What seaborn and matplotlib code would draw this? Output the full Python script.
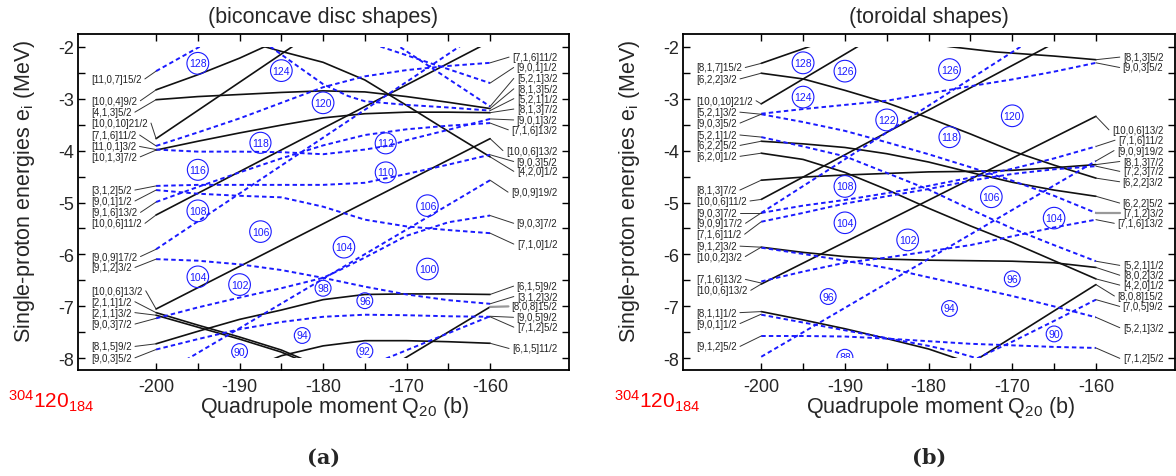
import matplotlib
matplotlib.use("Agg")
import matplotlib.pyplot as plt
import numpy as np
import pandas as pd
import seaborn as sns
from matplotlib.ticker import FixedLocator
from matplotlib.patches import Rectangle

# ---------------- data: panel (a) biconcave disc ----------------
Q9 = [-200, -195, -190, -185, -180, -175, -170, -165, -160]

a_s_10_0_4 = ([-200, -195, -190, -187, -185], [-2.83, -2.54, -2.22, -2.0, -1.88])
a_s_4_2_0 = ([-190, -187, -185, -180, -175, -170, -165, -160], [-1.87, -2.0, -2.09, -2.30, -2.64, -3.13, -3.63, -4.12])
a_s_4_1_3 = (Q9, [-3.02, -2.96, -2.92, -2.88, -2.85, -2.87, -2.96, -3.07, -3.19])
a_s_10_0_10 = ([-200, -183.7, -181], [-3.77, -2.0, -1.71])
a_s_10_1_3 = (Q9, [-3.99, -3.82, -3.66, -3.51, -3.37, -3.29, -3.26, -3.26, -3.27])
a_s_10_0_6a = ([-200, -160], [-5.24, -1.90])
a_s_10_0_6b = ([-200, -160], [-7.05, -3.77])
a_s_2_1_1a = ([-200, -195, -190, -185, -182.5, -180], [-7.12, -7.36, -7.59, -7.84, -8.01, -8.18])
a_s_2_1_1b = ([-200, -195, -190, -185, -182.5, -180], [-7.17, -7.40, -7.63, -7.88, -8.05, -8.22])
a_s_8_1_5 = (Q9, [-7.72, -7.48, -7.25, -7.07, -6.87, -6.77, -6.76, -6.76, -6.77])
a_s_6_1_5 = ([-190, -185, -180, -175, -170, -165, -160], [-8.27, -7.95, -7.76, -7.66, -7.66, -7.68, -7.71])
a_s_8_0_8 = ([-172, -160], [-8.17, -7.01])

a_d_11_0_7 = ([-200, -195, -194], [-2.47, -2.02, -1.93])
a_d_7_1_6 = (Q9, [-3.91, -3.65, -3.38, -3.08, -2.78, -2.57, -2.45, -2.37, -2.31])
a_d_top = ([-188, -186.3, -183, -180, -177, -175, -170, -165, -160], [-1.88, -2.0, -2.38, -2.72, -2.95, -3.05, -3.12, -3.17, -3.23])
a_d_11_0_1 = ([-200, -195, -190, -185, -180, -175, -172, -170, -165, -160], [-3.98, -4.02, -4.02, -4.03, -4.07, -3.98, -3.90, -3.80, -3.60, -3.39])
a_d_3_1_2 = (Q9, [-4.68, -4.66, -4.66, -4.66, -4.66, -4.62, -4.45, -4.27, -4.08])
a_d_9_0_1 = (Q9, [-4.76, -4.83, -4.87, -4.90, -5.08, -5.33, -5.46, -5.53, -5.59])
a_d_9_1_6 = (Q9, [-4.99, -4.70, -4.42, -4.15, -3.90, -3.70, -3.59, -3.52, -3.47])
a_d_9_0_9 = ([-200, -163.7, -162], [-5.90, -2.0, -1.82])
a_d_9_1_2 = (Q9, [-6.09, -6.12, -6.19, -6.30, -6.45, -6.62, -6.77, -6.88, -6.95])
a_d_9_0_3a = ([-200, -195, -190, -185, -180, -178, -175, -170, -165, -160], [-7.23, -7.02, -6.83, -6.65, -6.45, -6.30, -6.06, -5.64, -5.38, -5.25])
a_d_9_0_3b = (Q9, [-7.83, -7.63, -7.44, -7.30, -7.20, -7.16, -7.17, -7.19, -7.20])
a_d_steep = ([-198, -160], [-8.18, -4.57])
a_d_7_1_2 = ([-175, -160], [-8.17, -7.19])
a_d_top1 = ([-174, -160], [-1.95, -2.70])
a_d_top2 = ([-171.5, -160], [-1.93, -3.15])

a_left_text = ["[11,0,7]15/2", "[10,0,4]9/2", "[4,1,3]5/2", "[10,0,10]21/2", "[7,1,6]11/2",
               "[11,0,1]3/2", "[10,1,3]7/2", "[3,1,2]5/2", "[9,0,1]1/2", "[9,1,6]13/2",
               "[10,0,6]11/2", "[9,0,9]17/2", "[9,1,2]3/2", "[10,0,6]13/2", "[2,1,1]1/2",
               "[2,1,1]3/2", "[9,0,3]7/2", "[8,1,5]9/2", "[9,0,3]5/2"]
a_left_y = [-2.62, -3.04, -3.26, -3.47, -3.70, -3.92, -4.12, -4.76, -4.97, -5.19,
            -5.40, -6.04, -6.25, -6.70, -6.91, -7.12, -7.34, -7.77, -7.99]
a_left_to = [-2.47, -2.83, -3.02, -3.77, -3.91, -3.98, -3.99, -4.68, -4.76, -4.99,
             -5.24, -5.90, -6.09, -7.05, -7.12, -7.17, -7.23, -7.72, -7.83]

a_right_text = ["[7,1,6]11/2", "[9,0,1]1/2", "[5,2,1]3/2", "[8,1,3]5/2", "[5,2,1]1/2",
                "[8,1,3]7/2", "[9,0,1]3/2", "[7,1,6]13/2", "[10,0,6]13/2", "[9,0,3]5/2",
                "[4,2,0]1/2", "[9,0,9]19/2", "[9,0,3]7/2", "[7,1,0]1/2", "[6,1,5]9/2",
                "[3,1,2]3/2", "[8,0,8]15/2", "[9,0,5]9/2", "[7,1,2]5/2", "[6,1,5]11/2"]
a_right_y = [-2.20, -2.40, -2.61, -2.81, -3.00, -3.20, -3.41, -3.60, -4.00, -4.21,
             -4.40, -4.80, -5.40, -5.80, -6.61, -6.81, -7.00, -7.21, -7.40, -7.81]
a_right_from = [-2.31, -2.70, -3.15, -3.19, -3.23, -3.27, -3.39, -3.47, -3.77, -4.08,
                -4.12, -4.57, -5.25, -5.59, -6.77, -6.95, -7.01, -7.19, -7.20, -7.71]

a_magic = ["128", "124", "120", "118", "112", "116", "110", "108", "106", "106",
           "104", "100", "104", "102", "98", "96", "94", "90", "92"]
a_magic_q = [-195, -185, -180, -187.5, -172.5, -195, -172.5, -195, -187.5, -167.5,
             -177.5, -167.5, -195, -190, -180, -175, -182.5, -190, -175]
a_magic_e = [-2.32, -2.46, -3.08, -3.85, -3.86, -4.37, -4.42, -5.16, -5.56, -5.06,
             -5.86, -6.28, -6.43, -6.58, -6.65, -6.89, -7.56, -7.87, -7.86]

# ---------------- data: panel (b) toroidal ----------------
b_s_8_1_7 = ([-200, -194.3, -193], [-2.32, -2.0, -1.93])
b_s_6_2_2a = (Q9, [-2.51, -2.62, -2.84, -3.08, -3.37, -3.68, -4.01, -4.28, -4.53])
b_s_10_0_10 = ([-200, -188.5, -187], [-3.10, -2.0, -1.86])
b_s_6_2_2b = (Q9, [-3.82, -3.87, -3.94, -4.06, -4.22, -4.42, -4.61, -4.76, -4.88])
b_s_6_2_0 = (Q9, [-4.05, -4.17, -4.42, -4.75, -5.11, -5.45, -5.77, -6.12, -6.47])
b_s_8_1_3 = (Q9, [-4.57, -4.51, -4.47, -4.44, -4.41, -4.40, -4.38, -4.33, -4.27])
b_s_10_0_6a = ([-200, -165.8, -164], [-4.94, -2.0, -1.85])
b_s_10_0_6b = ([-200, -160], [-6.57, -3.34])
b_s_10_0_2 = (Q9, [-5.86, -5.96, -6.04, -6.09, -6.11, -6.12, -6.13, -6.16, -6.25])
b_s_8_1_1 = ([-200, -195, -190, -185, -180, -176.7, -175], [-7.10, -7.26, -7.43, -7.62, -7.82, -8.0, -8.09])
b_s_8_0_8 = ([-175.5, -160], [-8.15, -6.58])
b_s_8_1_3top = ([-180, -177.4, -172, -165, -160], [-1.94, -2.0, -2.10, -2.18, -2.25])

b_d_9_0_3a = (Q9, [-3.29, -3.20, -3.12, -3.04, -2.90, -2.76, -2.63, -2.48, -2.31])
b_d_5_2_1a = (Q9, [-3.30, -3.45, -3.62, -3.84, -4.07, -4.32, -4.58, -4.87, -5.20])
b_d_5_2_1b = (Q9, [-3.74, -3.92, -4.11, -4.43, -4.75, -5.13, -5.50, -5.82, -6.13])
b_d_9_0_3b = ([-200, -169, -168], [-5.20, -2.0, -1.9])
b_d_9_0_9 = (Q9, [-5.20, -5.06, -4.95, -4.82, -4.68, -4.52, -4.35, -4.15, -3.92])
b_d_7_1_6a = (Q9, [-5.37, -5.20, -5.02, -4.88, -4.74, -4.58, -4.45, -4.36, -4.30])
b_d_9_1_2a = (Q9, [-5.87, -5.99, -6.12, -6.26, -6.44, -6.62, -6.80, -7.00, -7.21])
b_d_7_1_6b = (Q9, [-6.52, -6.33, -6.16, -6.06, -5.94, -5.82, -5.65, -5.48, -5.33])
b_d_9_0_1 = ([-200, -195, -190, -185, -180, -177, -174.2, -172, -170, -165, -160],
             [-7.16, -7.31, -7.46, -7.61, -7.76, -7.87, -8.0, -7.83, -7.68, -7.28, -6.87])
b_d_9_1_2b = (Q9, [-7.57, -7.57, -7.58, -7.62, -7.67, -7.72, -7.75, -7.78, -7.80])
b_d_steep = ([-200, -160], [-7.97, -4.20])

b_left_text = ["[8,1,7]15/2", "[6,2,2]3/2", "[10,0,10]21/2", "[5,2,1]3/2", "[9,0,3]5/2",
               "[5,2,1]1/2", "[6,2,2]5/2", "[6,2,0]1/2", "[8,1,3]7/2", "[10,0,6]11/2",
               "[9,0,3]7/2", "[9,0,9]17/2", "[7,1,6]11/2", "[9,1,2]3/2", "[10,0,2]3/2",
               "[7,1,6]13/2", "[10,0,6]13/2", "[8,1,1]1/2", "[9,0,1]1/2", "[9,1,2]5/2"]
b_left_y = [-2.40, -2.62, -3.04, -3.26, -3.47, -3.70, -3.90, -4.11, -4.76, -4.97,
            -5.20, -5.40, -5.61, -5.84, -6.04, -6.48, -6.69, -7.12, -7.33, -7.77]
b_left_to = [-2.32, -2.51, -3.10, -3.30, -3.30, -3.74, -3.82, -4.05, -4.57, -4.94,
             -5.20, -5.20, -5.37, -5.86, -5.86, -6.55, -6.57, -7.10, -7.15, -7.57]

b_right_text = ["[8,1,3]5/2", "[9,0,3]5/2", "[10,0,6]13/2", "[7,1,6]11/2", "[9,0,9]19/2",
                "[8,1,3]7/2", "[7,2,3]7/2", "[6,2,2]3/2", "[6,2,2]5/2", "[7,1,2]3/2",
                "[7,1,6]13/2", "[5,2,1]1/2", "[8,0,2]3/2", "[4,2,0]1/2", "[8,0,8]15/2",
                "[7,0,5]9/2", "[5,2,1]3/2", "[7,1,2]5/2"]
b_right_y = [-2.20, -2.40, -3.60, -3.80, -4.00, -4.21, -4.40, -4.60, -5.01, -5.20,
             -5.40, -6.21, -6.40, -6.59, -6.80, -7.00, -7.41, -8.00]
b_right_from = [-2.25, -2.31, -3.34, -3.92, -4.20, -4.27, -4.30, -4.53, -4.88, -5.20,
                -5.33, -6.13, -6.25, -6.47, -6.58, -6.87, -7.21, -7.80]

b_magic = ["128", "126", "124", "126", "122", "120", "118", "108", "106", "104",
           "104", "102", "96", "96", "94", "90", "88"]
b_magic_q = [-195, -190, -195, -177.5, -185, -170, -177.5, -190, -172.5, -190,
             -165, -182.5, -170, -192, -177.5, -165, -190]
b_magic_e = [-2.31, -2.47, -2.97, -2.44, -3.41, -3.33, -3.74, -4.69, -4.89, -5.39,
             -5.30, -5.72, -6.47, -6.81, -7.04, -7.53, -7.98]

a_solid = [a_s_10_0_4, a_s_4_2_0, a_s_4_1_3, a_s_10_0_10, a_s_10_1_3, a_s_10_0_6a,
           a_s_10_0_6b, a_s_2_1_1a, a_s_2_1_1b, a_s_8_1_5, a_s_6_1_5, a_s_8_0_8]
a_dash = [a_d_11_0_7, a_d_7_1_6, a_d_top, a_d_11_0_1, a_d_3_1_2, a_d_9_0_1, a_d_9_1_6,
          a_d_9_0_9, a_d_9_1_2, a_d_9_0_3a, a_d_9_0_3b, a_d_steep, a_d_7_1_2, a_d_top1, a_d_top2]
b_solid = [b_s_8_1_7, b_s_6_2_2a, b_s_10_0_10, b_s_6_2_2b, b_s_6_2_0, b_s_8_1_3,
           b_s_10_0_6a, b_s_10_0_6b, b_s_10_0_2, b_s_8_1_1, b_s_8_0_8, b_s_8_1_3top]
b_dash = [b_d_9_0_3a, b_d_5_2_1a, b_d_5_2_1b, b_d_9_0_3b, b_d_9_0_9, b_d_7_1_6a,
          b_d_9_1_2a, b_d_7_1_6b, b_d_9_0_1, b_d_9_1_2b, b_d_steep]

# ---------------- style ----------------
sns.set_style("ticks")
plt.rcParams["font.family"] = ["Liberation Sans", "DejaVu Sans"]
plt.rcParams["mathtext.fontset"] = "custom"
plt.rcParams["mathtext.rm"] = "Liberation Sans"
plt.rcParams["mathtext.it"] = "Liberation Sans:italic"
plt.rcParams["mathtext.bf"] = "Liberation Sans:bold"
plt.rcParams["axes.unicode_minus"] = False

BLUE = "#1a1aff"
W, H = 1176, 477
fig = plt.figure(figsize=(W / 100, H / 100), dpi=100)


def rect(x0, x1, ytop, ybot):
    return [x0 / W, 1 - ybot / H, (x1 - x0) / W, (ybot - ytop) / H]


ax_a = fig.add_axes(rect(78, 569, 35, 370.5))
ax_b = fig.add_axes(rect(683, 1175, 35, 370.5))


def build_df(solid, dash):
    rows = []
    for i, (q, e) in enumerate(solid):
        for qq, ee in zip(q, e):
            rows.append(("s%d" % i, "s", qq, ee))
    for i, (q, e) in enumerate(dash):
        for qq, ee in zip(q, e):
            rows.append(("d%d" % i, "d", qq, ee))
    return pd.DataFrame(rows, columns=["uid", "kind", "Q", "E"])


def setup(ax, title):
    ax.set_xlim(-209.35, -150.55)
    ax.set_ylim(-8.215, -1.755)
    ax.xaxis.set_major_locator(FixedLocator([-200, -190, -180, -170, -160]))
    ax.xaxis.set_minor_locator(FixedLocator([-195, -185, -175, -165]))
    ax.yaxis.set_major_locator(FixedLocator([-2, -3, -4, -5, -6, -7, -8]))
    ax.yaxis.set_minor_locator(FixedLocator([-2.5, -3.5, -4.5, -5.5, -6.5, -7.5]))
    ax.tick_params(which="both", direction="in", top=True, right=True, length=5,
                   width=1.0, labelsize=13, color="black")
    ax.tick_params(axis="x", pad=6)
    ax.tick_params(axis="y", pad=3)
    for s in ax.spines.values():
        s.set_visible(True)
        s.set_linewidth(1.3)
        s.set_color("black")
    ax.set_title(title, fontsize=15.5, pad=9)
    ax.set_xlabel("Quadrupole moment Q$_{20}$ (b)", fontsize=15.5)
    ax.set_ylabel("Single-proton energies e$_{\\mathrm{i}}$ (MeV)", fontsize=15.5)
    ax.xaxis.set_label_coords(0.523, -0.074)
    ax.yaxis.set_label_coords(-0.083, 0.535)


def draw_panel(ax, solid, dash, magic, mq, me, title):
    df = build_df(solid, dash)
    sns.lineplot(data=df, x="Q", y="E", units="uid", estimator=None, sort=False,
                 hue="kind", style="kind", size="kind",
                 palette={"s": "#111111", "d": BLUE},
                 dashes={"s": "", "d": (2.3, 1.6)},
                 sizes={"s": 1.2, "d": 1.4},
                 legend=False, ax=ax)
    # data window of the calculation: energies -8 .. -2 MeV
    window = Rectangle((-210, -8.0), 60, 6.0, transform=ax.transData)
    for ln in ax.lines:
        ln.set_clip_path(window)
    for t, q, e in zip(magic, mq, me):
        txt = ax.text(q, e, t, ha="center", va="center", fontsize=7.5, color=BLUE, zorder=6,
                      clip_on=True,
                      bbox=dict(boxstyle="circle,pad=0.2", fc="none", ec=BLUE, lw=0.8))
        txt.set_clip_path(window)
        patch = txt.get_bbox_patch()
        if patch is not None:
            patch.set_clip_path(window)
            patch.set_clip_on(True)
    setup(ax, title)


draw_panel(ax_a, a_solid, a_dash, a_magic, a_magic_q, a_magic_e, "(biconcave disc shapes)")
draw_panel(ax_b, b_solid, b_dash, b_magic, b_magic_q, b_magic_e, "(toroidal shapes)")


def add_labels(ax, ltext, ly, rtext, ry):
    lt = [ax.text(-207.75, y, t, ha="left", va="center", fontsize=7, color="#222222")
          for t, y in zip(ltext, ly)]
    rt = [ax.text(-151.95, y, t, ha="right", va="center", fontsize=7, color="#222222")
          for t, y in zip(rtext, ry)]
    return lt, rt


def add_leaders(ax, lt, ly, lto, rt, ry, rfrom, gray_right, renderer):
    inv = ax.transData.inverted()
    for t, y, e in zip(lt, ly, lto):
        bb = t.get_window_extent(renderer)
        xd = inv.transform((bb.x1 + 3, 0))[0]
        ax.plot([xd, -200], [y, e], color="#333333", lw=0.7, zorder=3)
    for t, y, e, g in zip(rt, ry, rfrom, gray_right):
        bb = t.get_window_extent(renderer)
        xd = inv.transform((bb.x0 - 3, 0))[0]
        if g:
            ax.plot([-160, xd], [e, y], color="#999999", lw=1.6, zorder=3)
        else:
            ax.plot([-160, xd], [e, y], color="#333333", lw=0.7, zorder=3)


a_gray = [t == "[8,0,8]15/2" for t in a_right_text]
b_gray = [t == "[7,1,2]3/2" for t in b_right_text]
alt, art = add_labels(ax_a, a_left_text, a_left_y, a_right_text, a_right_y)
blt, brt = add_labels(ax_b, b_left_text, b_left_y, b_right_text, b_right_y)

fig.canvas.draw()
r = fig.canvas.get_renderer()
add_leaders(ax_a, alt, a_left_y, a_left_to, art, a_right_y, a_right_from, a_gray, r)
add_leaders(ax_b, blt, b_left_y, b_left_to, brt, b_right_y, b_right_from, b_gray, r)

for xpx in (8, 614):
    fig.text(xpx / W, 1 - 408 / H, r"$^{304}$120$_{184}$", color="red", fontsize=15,
             va="baseline", ha="left")
fig.text(323.5 / W, 1 - 458 / H, "(a)", ha="center", va="center", fontsize=15,
         fontweight="bold", family="DejaVu Serif")
fig.text(929 / W, 1 - 458 / H, "(b)", ha="center", va="center", fontsize=15,
         fontweight="bold", family="DejaVu Serif")

fig.savefig("out.png", dpi=100)
